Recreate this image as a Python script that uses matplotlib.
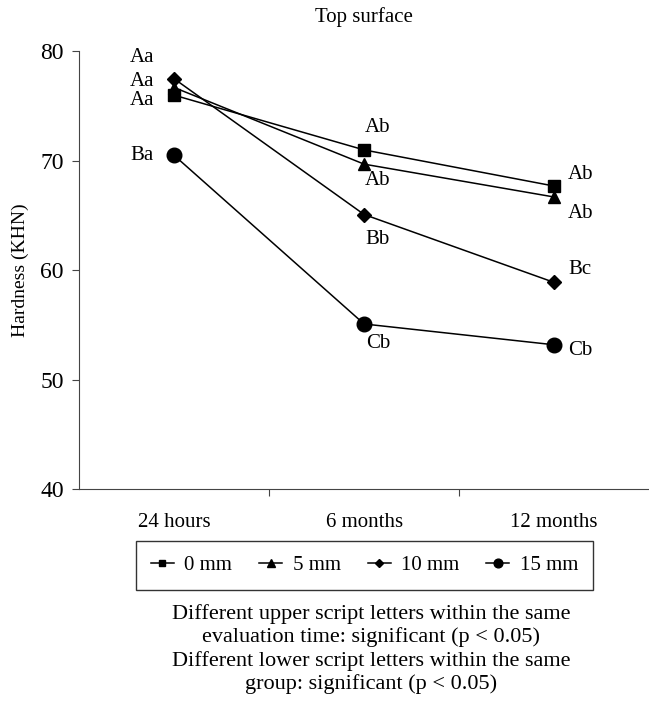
import numpy as np
import matplotlib.pyplot as plt

plt.rcParams["font.family"] = ["Liberation Serif", "DejaVu Serif"]

times = ["24 hours", "6 months", "12 months"]
groups = ["0 mm", "5 mm", "10 mm", "15 mm"]
hardness = {
    "0 mm": [76.0, 71.0, 67.7],
    "5 mm": [76.7, 69.7, 66.7],
    "10 mm": [77.5, 65.1, 58.9],
    "15 mm": [70.5, 55.1, 53.2],
}
letters = {
    "0 mm": ["Aa", "Ab", "Ab"],
    "5 mm": ["Aa", "Ab", "Ab"],
    "10 mm": ["Aa", "Bb", "Bc"],
    "15 mm": ["Ba", "Cb", "Cb"],
}
markers = {"0 mm": "s", "5 mm": "^", "10 mm": "D", "15 mm": "o"}
msizes = {"0 mm": 8, "5 mm": 8.5, "10 mm": 7, "15 mm": 10.5}

# label offsets in points (per group, per time)
offsets = {
    "0 mm": [(-23, -4), (10, 16), (19, 8)],
    "5 mm": [(-23, 4), (10, -12), (19, -12)],
    "10 mm": [(-23, 15), (10, -18), (19, 9)],
    "15 mm": [(-23, 0), (10, -14), (19, -4)],
}

fig = plt.figure(figsize=(6.49, 7.04), dpi=100)
ax = fig.add_axes([0.122, 0.305, 0.878, 0.622])

x = np.arange(len(times))
for g in groups:
    ax.plot(x, hardness[g], color="black", lw=1.1, marker=markers[g],
            markersize=msizes[g], label=g)
    for i, (xi, yi) in enumerate(zip(x, hardness[g])):
        dx, dy = offsets[g][i]
        ax.annotate(letters[g][i], xy=(xi, yi), xytext=(dx, dy),
                    textcoords="offset points", fontsize=15,
                    ha="center", va="center")

ax.set_xlim(-0.5, 2.5)
ax.set_ylim(40, 80)
ax.set_yticks([40, 50, 60, 70, 80])
ax.set_xticks([0.5, 1.5])
ax.set_xticklabels([])
ax.set_xticks(x, minor=True)
ax.set_xticklabels(times, minor=True)
ax.tick_params(axis="x", which="minor", length=0, pad=17, labelsize=15)
ax.tick_params(axis="x", which="major", length=5, direction="out", color="#444444")
ax.tick_params(axis="y", length=5, pad=6, direction="out", labelsize=17, color="#444444")
ax.spines["top"].set_visible(False)
ax.spines["right"].set_visible(False)
ax.spines["left"].set_color("#444444")
ax.spines["bottom"].set_color("#444444")
ax.set_ylabel("Hardness (KHN)", fontsize=14, labelpad=8)
ax.set_title("Top surface", fontsize=15, pad=21)

leg = fig.legend(loc="center", bbox_to_anchor=(0.5616, 0.1967), ncol=4,
                 fontsize=15, frameon=True, fancybox=False, markerscale=0.6,
                 handlelength=1.1, handletextpad=0.5, columnspacing=1.3,
                 borderpad=0.7)
leg.get_frame().set_edgecolor("black")
leg.get_frame().set_linewidth(1.0)

fig.text(0.572, 0.078,
         "Different upper script letters within the same\n"
         "evaluation time: significant (p < 0.05)\n"
         "Different lower script letters within the same\n"
         "group: significant (p < 0.05)",
         ha="center", va="center", fontsize=16, linespacing=1.25)

fig.savefig("out.png", dpi=100)
